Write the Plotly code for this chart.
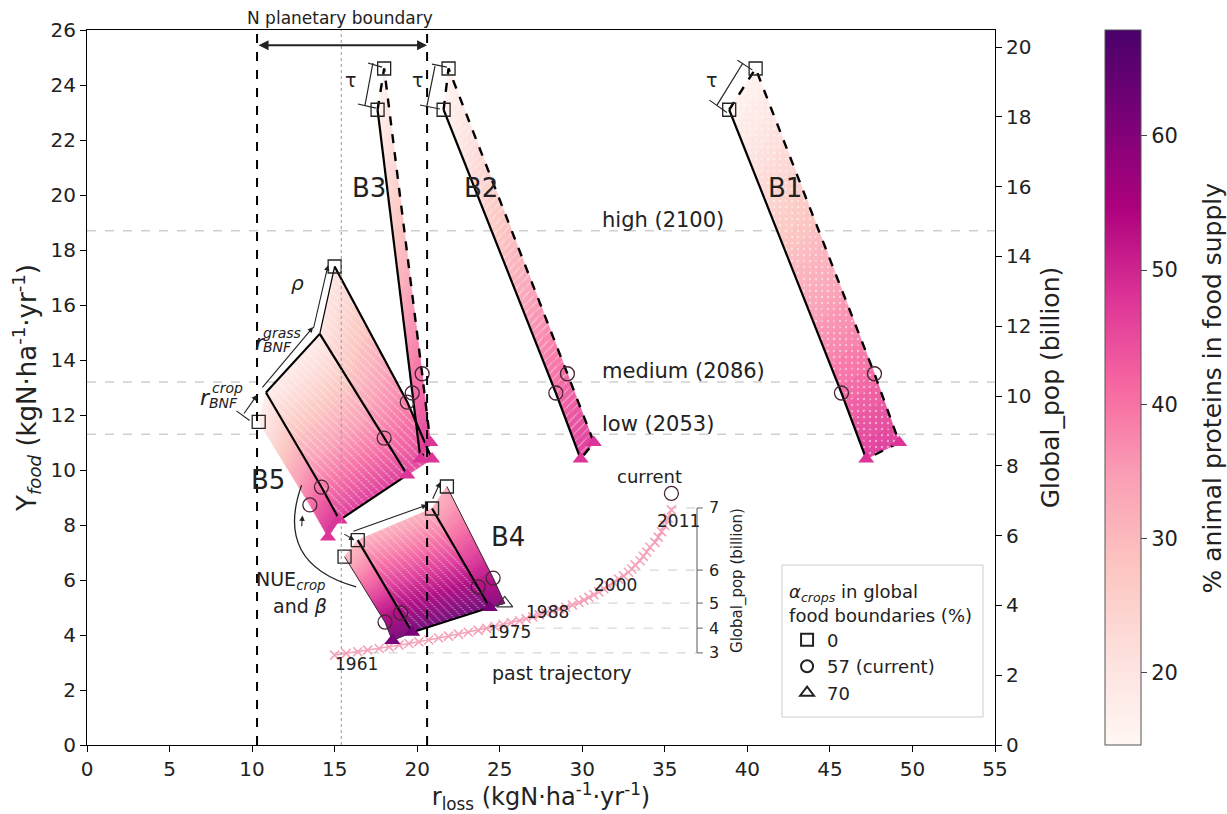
import numpy as np
import plotly.graph_objects as go
from plotly.colors import sample_colorscale

# ---------------- data ----------------
CB_MIN, CB_MAX = 14.6, 67.9
X_TICKS = list(range(0, 56, 5))
Y_TICKS = list(range(0, 27, 2))
Y2_TICKS = list(range(0, 21, 2))
CB_TICKS = [20, 30, 40, 50, 60]
POP_HIGH, POP_MED, POP_LOW = 18.7, 13.2, 11.3
N_BOUND = [10.3, 20.6]
CURRENT_RLOSS = 15.4

# boundary lines: [alpha=0 (square), alpha=57 (circle), alpha=70 (triangle)]
B1_L_x = [38.9, 45.7, 47.2]; B1_L_y = [23.1, 12.8, 10.4]
B1_R_x = [40.5, 47.7, 49.2]; B1_R_y = [24.6, 13.5, 11.0]
B2_L_x = [21.6, 28.4, 29.9]; B2_L_y = [23.1, 12.8, 10.4]
B2_R_x = [21.9, 29.1, 30.7]; B2_R_y = [24.6, 13.5, 11.0]
B3_L_x = [17.6, 19.7, 20.2]; B3_L_y = [23.1, 12.8, 10.4]
B3_R_x = [18.0, 20.3, 20.8]; B3_R_y = [24.6, 13.5, 11.0]
B4_1_x = [15.6, 18.05, 18.5]; B4_1_y = [6.85, 4.47, 3.8]
B4_2_x = [16.4, 19.0, 19.7]; B4_2_y = [7.45, 4.8, 4.1]
B4_3_x = [20.9, 23.7, 24.4]; B4_3_y = [8.6, 5.75, 5.0]
B4_4_x = [21.8, 24.6, 25.3]; B4_4_y = [9.4, 6.07, 5.15]
B5_1_x = [10.4, 13.5, 14.6]; B5_1_y = [11.75, 8.73, 7.56]
B5_2_x = [10.84, 14.2, 15.3]; B5_2_y = [12.82, 9.38, 8.18]
B5_3_x = [14.1, 18.0, 19.4]; B5_3_y = [14.95, 11.16, 9.82]
B5_4_x = [15.0, 19.4, 20.9]; B5_4_y = [17.4, 12.47, 10.4]

# % animal proteins at top / bottom of each area
B1_pct = [16, 48]; B2_pct = [16, 48]; B3_pct = [16, 47]
B4_pct_1 = [30, 62]; B4_pct_2 = [32, 63]; B4_pct_3 = [32, 60]
B5_pct_1 = [17, 50]; B5_pct_2 = [18, 48]; B5_pct_3 = [20, 47]

# past trajectory 1961-2011
TRAJ_x = [15.0, 15.7, 16.4, 17.0, 17.7, 18.3, 18.9, 19.5, 20.1, 20.7,
          21.3, 21.9, 22.5, 23.1, 23.7, 24.2, 24.7, 25.2, 25.7, 26.2,
          26.6, 27.0, 27.4, 27.8, 28.2, 28.6, 29.0, 29.4, 29.8, 30.1,
          30.4, 30.7, 31.0, 31.3, 31.6, 31.9, 32.2, 32.5, 32.8, 33.0,
          33.2, 33.5, 33.7, 33.9, 34.1, 34.4, 34.6, 34.8, 35.0, 35.2, 35.4]
TRAJ_y = [3.27, 3.33, 3.39, 3.45, 3.51, 3.57, 3.63, 3.69, 3.75, 3.82,
          3.89, 3.96, 4.03, 4.10, 4.17, 4.24, 4.31, 4.38, 4.45, 4.52,
          4.59, 4.66, 4.73, 4.80, 4.87, 4.94, 5.01, 5.09, 5.18, 5.27,
          5.37, 5.47, 5.57, 5.68, 5.79, 5.91, 6.03, 6.15, 6.28, 6.40,
          6.55, 6.70, 6.86, 7.02, 7.19, 7.37, 7.56, 7.76, 7.98, 8.25, 8.55]
CURRENT_PT = [35.4, 9.15]
POP_TICKS = [3, 4, 5, 6, 7]
POP_TICK_Y = [3.35, 4.25, 5.16, 6.36, 8.62]
POP_LINE_START = [15.0, 23.9, 29.4, 33.0, 35.2]
YEAR_LABELS = ["1961", "1975", "1988", "2000", "2011"]
YEAR_LABEL_x = [16.35, 25.6, 27.9, 32.0, 35.8]
YEAR_LABEL_y = [2.96, 4.1, 4.84, 5.82, 8.15]
INSET_X = 36.95

FONT = "DejaVu Sans"
SCALE = "RdPu"

fig = go.Figure()

# ---------------- gradient fills ----------------
groups = {}


def line_pt(xs, ys, t):
    xs = np.asarray(xs, float); ys = np.asarray(ys, float)
    seg = np.hypot(np.diff(xs), np.diff(ys))
    cum = np.concatenate([[0], np.cumsum(seg)])
    s = t * cum[-1]
    return float(np.interp(s, cum, xs)), float(np.interp(s, cum, ys))


def add_area(ax, ay, bx, by, pct, hatch=None, n=45):
    for i in range(n):
        t0, t1 = i / n, (i + 1) / n
        p1 = line_pt(ax, ay, t0); p2 = line_pt(ax, ay, t1)
        p3 = line_pt(bx, by, t1); p4 = line_pt(bx, by, t0)
        v = pct[0] + (pct[1] - pct[0]) * (t0 + t1) / 2
        key = (round(v * 2) / 2, hatch)
        g = groups.setdefault(key, ([], []))
        g[0].extend([p1[0], p2[0], p3[0], p4[0], p1[0], None])
        g[1].extend([p1[1], p2[1], p3[1], p4[1], p1[1], None])


add_area(B1_L_x, B1_L_y, B1_R_x, B1_R_y, B1_pct, ".")
add_area(B2_L_x, B2_L_y, B2_R_x, B2_R_y, B2_pct, "/")
add_area(B3_L_x, B3_L_y, B3_R_x, B3_R_y, B3_pct)
add_area(B4_1_x, B4_1_y, B4_2_x, B4_2_y, B4_pct_1)
add_area(B4_2_x, B4_2_y, B4_3_x, B4_3_y, B4_pct_2, "\\")
add_area(B4_3_x, B4_3_y, B4_4_x, B4_4_y, B4_pct_3)
add_area(B5_1_x, B5_1_y, B5_2_x, B5_2_y, B5_pct_1)
add_area(B5_2_x, B5_2_y, B5_3_x, B5_3_y, B5_pct_2, "\\")
add_area(B5_3_x, B5_3_y, B5_4_x, B5_4_y, B5_pct_3, "\\")

for key in sorted(groups, key=lambda k: (k[0], str(k[1]))):
    val, hatch = key
    col = sample_colorscale(SCALE, [(val - CB_MIN) / (CB_MAX - CB_MIN)])[0]
    gx, gy = groups[key]
    kw = {}
    if hatch:
        kw["fillpattern"] = dict(shape=hatch, fgcolor="white", bgcolor=col, size=6,
                                 solidity=0.18 if hatch != "." else 0.12)
    fig.add_trace(go.Scatter(x=gx, y=gy, mode="lines", fill="toself", fillcolor=col,
                             line=dict(width=0.7, color=col), opacity=0.92,
                             hoverinfo="skip", showlegend=False, **kw))


# ---------------- outlines ----------------
def seg(xs, ys, width=2.0, dash="solid", color="black"):
    fig.add_trace(go.Scatter(x=xs, y=ys, mode="lines",
                             line=dict(color=color, width=width, dash=dash),
                             hoverinfo="skip", showlegend=False))


for Lx, Ly, Rx, Ry in [(B1_L_x, B1_L_y, B1_R_x, B1_R_y),
                       (B2_L_x, B2_L_y, B2_R_x, B2_R_y),
                       (B3_L_x, B3_L_y, B3_R_x, B3_R_y)]:
    seg(Lx, Ly, 2.2)
    seg([Lx[0], Rx[0]] + Rx[1:] + [Lx[-1]], [Ly[0], Ry[0]] + Ry[1:] + [Ly[-1]], 2.4, "dash")

# B4
seg(B4_1_x, B4_1_y, 1.0, color="#333")
seg(B4_2_x, B4_2_y, 2.2)
seg(B4_3_x, B4_3_y, 2.2)
seg(B4_4_x, B4_4_y, 1.0, color="#333")
seg([B4_2_x[-1], B4_3_x[-1]], [B4_2_y[-1], B4_3_y[-1]], 2.2)
seg([B4_1_x[-1], B4_2_x[-1]], [B4_1_y[-1], B4_2_y[-1]], 1.0, color="#333")
seg([B4_3_x[-1], B4_4_x[-1]], [B4_3_y[-1], B4_4_y[-1]], 1.0, color="#333")
# B5
seg(B5_2_x, B5_2_y, 2.2)
seg(B5_3_x, B5_3_y, 2.2)
seg(B5_4_x, B5_4_y, 2.2)
seg([B5_2_x[0], B5_3_x[0]], [B5_2_y[0], B5_3_y[0]], 2.2)
seg([B5_3_x[0], B5_4_x[0]], [B5_3_y[0], B5_4_y[0]], 1.2)
seg([B5_2_x[-1], B5_3_x[-1]], [B5_2_y[-1], B5_3_y[-1]], 2.2)

# ---------------- past trajectory ----------------
for py, sx in zip(POP_TICK_Y, POP_LINE_START):
    seg([sx, INSET_X], [py, py], 1.0, "dash", "#cccccc")
fig.add_trace(go.Scatter(x=TRAJ_x, y=TRAJ_y, mode="lines+markers",
                         line=dict(color="#f4a3b9", width=1.5),
                         marker=dict(symbol="x-thin-open", size=9,
                                     line=dict(color="#f4a3b9", width=1.6)),
                         hoverinfo="skip", showlegend=False))
seg([INSET_X, INSET_X], [POP_TICK_Y[0], POP_TICK_Y[-1]], 1.2, color="#777")
for py in POP_TICK_Y:
    seg([INSET_X, INSET_X + 0.35], [py, py], 1.2, color="#777")

# ---------------- markers ----------------
sq_x = [B1_L_x[0], B1_R_x[0], B2_L_x[0], B2_R_x[0], B3_L_x[0], B3_R_x[0],
        B4_1_x[0], B4_2_x[0], B4_3_x[0], B4_4_x[0], B5_1_x[0], B5_4_x[0]]
sq_y = [B1_L_y[0], B1_R_y[0], B2_L_y[0], B2_R_y[0], B3_L_y[0], B3_R_y[0],
        B4_1_y[0], B4_2_y[0], B4_3_y[0], B4_4_y[0], B5_1_y[0], B5_4_y[0]]
ci_x = [B1_L_x[1], B1_R_x[1], B2_L_x[1], B2_R_x[1], B3_L_x[1], B3_R_x[1],
        B4_1_x[1], B4_2_x[1], B4_3_x[1], B4_4_x[1],
        B5_1_x[1], B5_2_x[1], B5_3_x[1], B5_4_x[1], CURRENT_PT[0]]
ci_y = [B1_L_y[1], B1_R_y[1], B2_L_y[1], B2_R_y[1], B3_L_y[1], B3_R_y[1],
        B4_1_y[1], B4_2_y[1], B4_3_y[1], B4_4_y[1],
        B5_1_y[1], B5_2_y[1], B5_3_y[1], B5_4_y[1], CURRENT_PT[1]]
tr_x = [B1_L_x[2], B1_R_x[2], B2_L_x[2], B2_R_x[2], B3_L_x[2], B3_R_x[2],
        B5_1_x[2], B5_2_x[2], B5_3_x[2], B5_4_x[2]]
tr_y = [B1_L_y[2], B1_R_y[2], B2_L_y[2], B2_R_y[2], B3_L_y[2], B3_R_y[2],
        B5_1_y[2], B5_2_y[2], B5_3_y[2], B5_4_y[2]]
tr4_x = [B4_1_x[2], B4_2_x[2], B4_3_x[2]]
tr4_y = [B4_1_y[2], B4_2_y[2], B4_3_y[2]]

fig.add_trace(go.Scatter(x=sq_x, y=sq_y, mode="markers", hoverinfo="skip", showlegend=False,
                         marker=dict(symbol="square-open", size=13, color="#222", line=dict(width=1.3))))
fig.add_trace(go.Scatter(x=ci_x, y=ci_y, mode="markers", hoverinfo="skip", showlegend=False,
                         marker=dict(symbol="circle-open", size=14, color="#4a2535", line=dict(width=1.3))))
fig.add_trace(go.Scatter(x=tr_x, y=tr_y, mode="markers", hoverinfo="skip", showlegend=False,
                         marker=dict(symbol="triangle-up", size=14, color="#dd3497")))
fig.add_trace(go.Scatter(x=tr4_x, y=tr4_y, mode="markers", hoverinfo="skip", showlegend=False,
                         marker=dict(symbol="triangle-up", size=14, color="#7a0177")))
fig.add_trace(go.Scatter(x=[B4_4_x[2]], y=[B4_4_y[2]], mode="markers", hoverinfo="skip", showlegend=False,
                         marker=dict(symbol="triangle-up-open", size=14, color="#333", line=dict(width=1.2))))

# legend entries
for sym, name in [("square-open", "0"), ("circle-open", "57 (current)"), ("triangle-up-open", "70")]:
    fig.add_trace(go.Scatter(x=[None], y=[None], mode="markers", name=name,
                             marker=dict(symbol=sym, size=11, color="#222", line=dict(width=1.3))))

# colorbar holder
fig.add_trace(go.Scatter(x=[-10, -10], y=[-10, -10], mode="markers", showlegend=False, hoverinfo="skip",
                         marker=dict(color=[CB_MIN, CB_MAX], colorscale=SCALE, cmin=CB_MIN, cmax=CB_MAX,
                                     size=1, showscale=True,
                                     colorbar=dict(x=1.1211, xanchor="left", xpad=0,
                                                   y=0.5, yanchor="middle", ypad=0,
                                                   len=1.0, thickness=36, outlinewidth=1, outlinecolor="#555",
                                                   tickvals=CB_TICKS, ticks="outside", ticklen=6,
                                                   tickfont=dict(size=21, family=FONT, color="#222")))))
# y2 holder
fig.add_trace(go.Scatter(x=[-10], y=[-10], yaxis="y2", mode="markers", showlegend=False, hoverinfo="skip"))

# ---------------- shapes ----------------
shapes = []
for xv in N_BOUND:
    shapes.append(dict(type="line", xref="x", yref="y", x0=xv, x1=xv, y0=0, y1=26,
                       line=dict(color="black", width=2, dash="dash")))
shapes.append(dict(type="line", xref="x", yref="y", x0=CURRENT_RLOSS, x1=CURRENT_RLOSS, y0=0, y1=26,
                   line=dict(color="#999", width=1, dash="dot")))
for yv in [POP_HIGH, POP_MED, POP_LOW]:
    shapes.append(dict(type="line", xref="paper", yref="y", x0=0, x1=1, y0=yv, y1=yv,
                       line=dict(color="#cfcfcf", width=1.6, dash="dash"), layer="below"))
# tau brackets
for bx, by in [([16.84, 17.32], [23.27, 24.8]), ([20.59, 21.08], [23.24, 24.69]), ([38.16, 39.73], [23.27, 24.8])]:
    shapes.append(dict(type="line", xref="x", yref="y", x0=bx[0], x1=bx[1], y0=by[0], y1=by[1],
                       line=dict(color="#222", width=1.2)))
for (x0, y0, x1, y1) in [(16.41, 23.31, 17.5, 23.16), (17.02, 24.8, 17.87, 24.65),
                         (20.17, 23.27, 21.38, 23.13), (20.9, 24.76, 21.8, 24.65),
                         (37.7, 23.45, 38.76, 23.0), (39.4, 24.9, 40.3, 24.55)]:
    shapes.append(dict(type="line", xref="x", yref="y", x0=x0, x1=x1, y0=y0, y1=y1,
                       line=dict(color="#222", width=1.1)))
# r_BNF^crop bar
shapes.append(dict(type="line", xref="x", yref="y", x0=9.05, x1=9.85, y0=12.15, y1=11.8,
                   line=dict(color="#222", width=1.1)))
# curved arrow NUE
shapes.append(dict(type="path", xref="x", yref="y", path="M 16.3,5.75 Q 11.3,6.6 13.0,9.45",
                   line=dict(color="#222", width=1.3)))
# legend frame
shapes.append(dict(type="rect", xref="paper", yref="paper", x0=0.7654, x1=0.9868, y0=0.0392, y1=0.2517,
                   line=dict(color="#cccccc", width=1), fillcolor="white", layer="below"))

# ---------------- annotations ----------------
ann = []


def txt(x, y, s, size=18, xanchor="center", yanchor="middle", color="#222", **kw):
    ann.append(dict(x=x, y=y, xref="x", yref="y", text=s, showarrow=False,
                    font=dict(size=size, family=FONT, color=color), xanchor=xanchor, yanchor=yanchor, **kw))


def arrow(x0, y0, x1, y1, head=2, side="end", w=1.1):
    ann.append(dict(x=x1, y=y1, ax=x0, ay=y0, xref="x", yref="y", axref="x", ayref="y", text="",
                    showarrow=True, arrowhead=head, arrowsize=1, arrowwidth=w, arrowcolor="#222",
                    arrowside=side, startarrowhead=head, startarrowsize=1))


txt(42.28, 20.25, "B1", 26)
txt(23.86, 20.25, "B2", 26)
txt(17.08, 20.25, "B3", 26)
txt(25.5, 7.56, "B4", 26)
txt(10.96, 9.64, "B5", 26)
txt(31.07, 19.1, "high (2100)", 21, xanchor="left")
txt(31.07, 13.6, "medium (2086)", 21, xanchor="left")
txt(31.07, 11.67, "low (2053)", 21, xanchor="left")
txt(15.99, 24.18, "τ", 19)
txt(19.99, 24.18, "τ", 19)
txt(37.8, 24.18, "τ", 19)
txt(12.78, 16.8, "<i>ρ</i>", 20)
txt(7.15, 12.62, "<i>r</i>", 22)
txt(8.48, 12.98, "<i>crop</i>", 14)
txt(8.24, 12.44, "<i>BNF</i>", 14)
txt(10.48, 14.62, "<i>r</i>", 22)
txt(11.81, 14.98, "<i>grass</i>", 14)
txt(11.51, 14.47, "<i>BNF</i>", 14)
txt(12.3, 6.0, "NUE<sub><i>crop</i></sub>", 19)
txt(12.9, 5.05, "and <i>β</i>", 19)
txt(34.1, 9.75, "current", 18)
txt(28.8, 2.62, "past trajectory", 19)
for lbl, lx, ly in zip(YEAR_LABELS, YEAR_LABEL_x, YEAR_LABEL_y):
    txt(lx, ly, lbl, 17)
for p, py in zip(POP_TICKS, POP_TICK_Y):
    txt(INSET_X + 0.6, py, str(p), 16, xanchor="left")
txt(39.37, 6.0, "Global_pop (billion)", 15, textangle=-90)

# arrows
arrow(10.3, 25.45, 20.6, 25.45, head=2, side="end+start", w=2)
arrow(9.45, 12.0, 10.3, 12.73)
arrow(10.55, 12.95, 13.7, 15.2)
arrow(13.7, 15.1, 14.6, 17.45)
arrow(15.5, 7.7, 16.2, 7.45)
arrow(16.05, 7.75, 20.6, 8.73)
arrow(20.9, 8.9, 21.4, 9.56)
arrow(13.0, 7.9, 13.05, 8.35)

ann.append(dict(x=0.2786, y=1.0168, xref="paper", yref="paper", text="N planetary boundary",
                xanchor="center", yanchor="middle",
                showarrow=False, font=dict(size=17, family=FONT, color="#222")))
# colorbar title
ann.append(dict(x=1.240, y=0.5, xref="paper", yref="paper", text="% animal proteins in food supply",
                xanchor="center", yanchor="middle", textangle=-90,
                showarrow=False, font=dict(size=25, family=FONT, color="#222")))

axis_common = dict(showgrid=False, zeroline=False, showline=True, linecolor="black", linewidth=1.2,
                   ticks="outside", ticklen=6, tickcolor="black",
                   tickfont=dict(size=20, family=FONT, color="#222"))

fig.update_layout(
    width=1227, height=814,
    margin=dict(l=87, r=232, t=30, b=69, autoexpand=False),
    paper_bgcolor="white", plot_bgcolor="white",
    font=dict(family=FONT, color="#222"),
    xaxis=dict(range=[0, 55], tickvals=X_TICKS, mirror=True, automargin=False,
               title=dict(text="r<sub>loss</sub> (kgN·ha<sup>-1</sup>·yr<sup>-1</sup>)",
                          font=dict(size=24, family=FONT), standoff=12), **axis_common),
    yaxis=dict(range=[0, 26], tickvals=Y_TICKS, mirror=True, automargin=False,
               title=dict(text="Y<sub><i>food</i></sub> (kgN·ha<sup>-1</sup>·yr<sup>-1</sup>)",
                          font=dict(size=26, family=FONT), standoff=6), **axis_common),
    yaxis2=dict(range=[0, 20.49], tickvals=Y2_TICKS, overlaying="y", side="right", automargin=False,
                title=dict(text="Global_pop (billion)", font=dict(size=25, family=FONT), standoff=10),
                **axis_common),
    shapes=shapes,
    annotations=ann,
    showlegend=True,
    legend=dict(x=0.771, y=0.238, xanchor="left", yanchor="top",
                borderwidth=0, bgcolor="rgba(0,0,0,0)",
                font=dict(size=18, family=FONT, color="#222"),
                title=dict(text="<i>α<sub>crops</sub></i> in global<br>food boundaries (%)",
                           font=dict(size=18, family=FONT, color="#222")),
                itemsizing="constant", tracegroupgap=0),
)

fig.write_html("out.html")
